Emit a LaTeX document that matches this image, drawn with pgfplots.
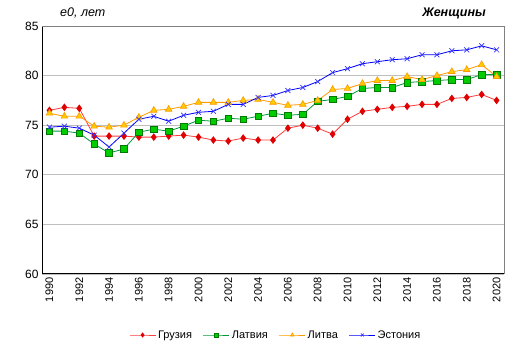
\documentclass[border=0pt]{standalone}
\usepackage{fontspec}
\setmainfont{Liberation Sans}
\usepackage{pgfplots}
\usepackage{pgfplotstable}
\pgfplotsset{compat=1.18}
\definecolor{geoline}{HTML}{FF3B3B}
\definecolor{geomark}{HTML}{E00000}
\definecolor{lvaline}{HTML}{00993A}
\definecolor{lvafill}{HTML}{00CC00}
\definecolor{lvadraw}{HTML}{007A00}
\definecolor{ltuline}{HTML}{FF9900}
\definecolor{ltufill}{HTML}{FFCC00}
\definecolor{estline}{HTML}{0000FF}
\definecolor{estmark}{HTML}{3333FF}
\pgfplotstableread{
year geo lva ltu est
1990 76.5 74.4 76.2 74.8
1991 76.8 74.4 75.9 74.9
1992 76.7 74.2 75.9 74.7
1993 73.9 73.1 74.9 74.0
1994 73.9 72.2 74.8 72.8
1995 73.9 72.6 75.0 74.2
1996 73.8 74.3 75.8 75.6
1997 73.8 74.6 76.5 75.9
1998 73.9 74.4 76.6 75.4
1999 74.0 74.9 76.9 76.0
2000 73.8 75.5 77.3 76.3
2001 73.5 75.4 77.3 76.4
2002 73.4 75.7 77.3 77.1
2003 73.7 75.6 77.5 77.1
2004 73.5 75.9 77.6 77.8
2005 73.5 76.2 77.3 78.0
2006 74.7 76.0 77.0 78.5
2007 75.0 76.1 77.1 78.8
2008 74.7 77.4 77.5 79.4
2009 74.1 77.6 78.6 80.3
2010 75.6 77.9 78.7 80.7
2011 76.4 78.7 79.2 81.2
2012 76.6 78.8 79.5 81.4
2013 76.8 78.8 79.5 81.6
2014 76.9 79.3 79.9 81.7
2015 77.1 79.4 79.6 82.1
2016 77.1 79.5 80.0 82.1
2017 77.7 79.6 80.4 82.5
2018 77.8 79.6 80.6 82.6
2019 78.1 80.1 81.1 83.0
2020 77.5 80.1 79.9 82.6
}\datatable
\begin{document}
\begin{tikzpicture}
\path[use as bounding box] (-42pt,-78pt) rectangle (476pt,274pt);
\begin{axis}[
  at={(0pt,0pt)}, anchor=south west,
  scale only axis, width=462pt, height=248pt,
  xmin=1989.5, xmax=2020.5, ymin=60, ymax=85,
  xtick={1990,1992,...,2020}, ytick={60,65,...,85},
  ymajorgrids, grid style={color=black!25, line width=0.6pt},
  axis lines=left, axis line style={-, black, line width=1pt},
  major tick length=0pt,
  /pgf/number format/assume math mode=true,
  /pgf/number format/1000 sep={},
  xticklabel style={rotate=90, anchor=east, font=\fontsize{11}{11}\selectfont},
  yticklabel style={font=\fontsize{12}{12}\selectfont},
  legend columns=4,
  legend image post style={mark size=2pt},
  legend style={draw=none, fill=none, at={(0.506,-0.246)}, anchor=center,
    font=\fontsize{11}{11}\selectfont,
    legend image code/.code={\draw[mark repeat=2,mark phase=2] plot coordinates {(0pt,0pt) (13pt,0pt) (26pt,0pt)};},
    /tikz/every even column/.append style={column sep=9pt}},
  clip=false,
]
\addplot[geoline, line width=0.8pt, mark=diamond*, mark size=3.2pt,
  mark options={fill=geomark, draw=geomark}] table[x=year, y=geo] {\datatable};
\addlegendentry{Грузия}
\addplot[lvaline, line width=0.8pt, mark=square*, mark size=3.3pt,
  mark options={fill=lvafill, draw=lvadraw, line width=0.6pt}] table[x=year, y=lva] {\datatable};
\addlegendentry{Латвия}
\addplot[ltuline, line width=0.8pt, mark=triangle*, mark size=3.8pt,
  mark options={fill=ltufill, draw=ltuline, line width=0.6pt}] table[x=year, y=ltu] {\datatable};
\addlegendentry{Литва}
\addplot[estline, line width=0.8pt, mark=x, mark size=3.5pt,
  mark options={draw=estmark, line width=0.7pt}] table[x=year, y=est] {\datatable};
\addlegendentry{Эстония}
\end{axis}
\draw[black!50, line width=0.8pt] (0pt,248pt) -- (462pt,248pt) -- (462pt,0pt);
\node[anchor=base west, font=\itshape\fontsize{12.5}{12.5}\selectfont, inner sep=0pt] at (18pt,257pt) {e0, лет};
\node[anchor=base east, font=\bfseries\itshape\fontsize{12.5}{12.5}\selectfont, inner sep=0pt] at (444pt,257pt) {Женщины};
\end{tikzpicture}
\end{document}
